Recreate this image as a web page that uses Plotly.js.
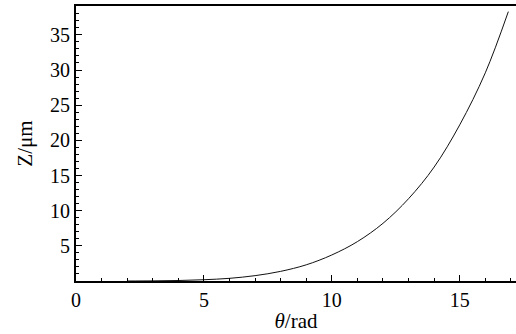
<!DOCTYPE html>
<html>
<head>
<meta charset="utf-8">
<script src="https://cdn.plot.ly/plotly-3.0.1.min.js"></script>
<style>html,body{margin:0;padding:0;background:#fff;}</style>
</head>
<body>
<div id="chart" style="width:516px;height:334px;"></div>
<script>
const theta = [2, 3, 4, 5, 6, 7, 8, 9, 10, 11, 12, 13, 14, 15, 16, 16.9];
const zValues = [0.0, 0.02, 0.07, 0.18, 0.38, 0.76, 1.37, 2.3, 3.7, 5.6, 8.2, 11.7, 16.2, 22.2, 29.6, 38.3];
const xTickVals = [0, 5, 10, 15];
const yTickVals = [5, 10, 15, 20, 25, 30, 35];

const tickFont = {family: 'Liberation Serif', size: 20, color: '#000'};
const titleFont = {family: 'Liberation Serif', size: 21, color: '#000'};

Plotly.newPlot('chart', [{
  x: theta, y: zValues, type: 'scatter', mode: 'lines',
  line: {color: '#111', width: 1, shape: 'spline', smoothing: 1},
  hoverinfo: 'skip'
}], {
  width: 516, height: 334,
  margin: {l: 76, r: 0, t: 6, b: 53},
  paper_bgcolor: '#fff', plot_bgcolor: '#fff',
  showlegend: false,
  font: tickFont,
  xaxis: {
    range: [0, 17.2], tickmode: 'array', tickvals: xTickVals,
    ticks: 'inside', ticklen: 6, tickwidth: 1, tickcolor: '#000',
    minor: {dtick: 1, tick0: 0, ticks: 'inside', ticklen: 3, tickcolor: '#000', showgrid: false},
    showline: true, linecolor: '#000', linewidth: 2, mirror: true,
    showgrid: false, zeroline: false, tickfont: tickFont,
    title: {text: '<i>θ</i>/rad', font: titleFont, standoff: 3}
  },
  yaxis: {
    range: [0, 39.1], tickmode: 'array', tickvals: yTickVals,
    ticks: 'inside', ticklen: 6, tickwidth: 1, tickcolor: '#000',
    minor: {dtick: 1, tick0: 0, ticks: 'inside', ticklen: 3, tickcolor: '#000', showgrid: false},
    showline: true, linecolor: '#000', linewidth: 2, mirror: false,
    showgrid: false, zeroline: false, tickfont: tickFont,
    title: {text: 'Z/μm', font: titleFont, standoff: 12}
  }
}, {staticPlot: true, displayModeBar: false});
</script>
</body>
</html>
